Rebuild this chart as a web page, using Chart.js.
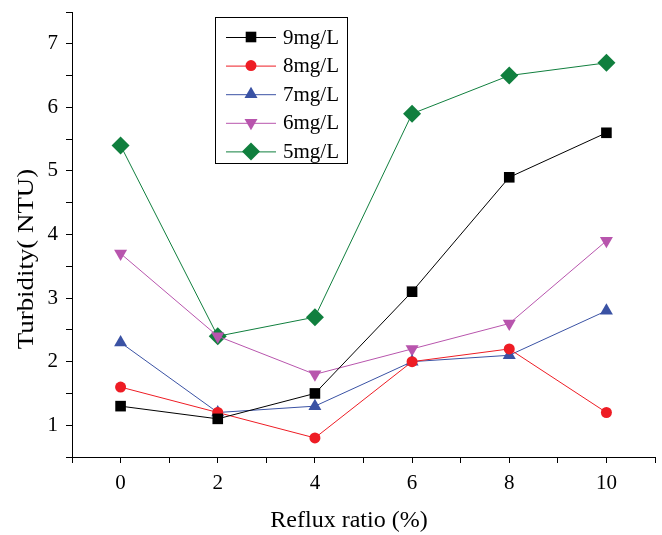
<!DOCTYPE html>
<html>
<head>
<meta charset="utf-8">
<script src="https://cdn.jsdelivr.net/npm/chart.js@4/dist/chart.umd.min.js"></script>
<style>
  html, body { margin: 0; padding: 0; background: #fff; }
</style>
</head>
<body>
<canvas id="turbChart" width="662" height="535"></canvas>
<script>
var refluxRatio = [0, 2, 4, 6, 8, 10];
var seriesNames = ['9mg/L', '8mg/L', '7mg/L', '6mg/L', '5mg/L'];
var dose9 = [1.3, 1.1, 1.5, 3.1, 4.9, 5.6];
var dose8 = [1.6, 1.2, 0.8, 2.0, 2.2, 1.2];
var dose7 = [2.3, 1.2, 1.3, 2.0, 2.1, 2.8];
var dose6 = [3.7, 2.4, 1.8, 2.2, 2.6, 3.9];
var dose5 = [5.4, 2.4, 2.7, 5.9, 6.5, 6.7];

var FONT = '"Liberation Serif", "Times New Roman", serif';

function pts(vals) {
    return vals.map(function (v, i) { return { x: refluxRatio[i], y: v }; });
}

function makeSet(label, vals, color, style, radius, rot) {
    return {
        label: label,
        data: pts(vals),
        borderColor: color,
        backgroundColor: color,
        borderWidth: 1,
        pointStyle: style,
        pointRadius: radius,
        pointRotation: rot || 0,
        pointBorderWidth: 0,
        fill: false
    };
}

// legend box inside the plot, line + marker like the original
var boxLegend = {
    id: 'boxLegend',
    afterDraw: function (chart) {
        var ctx = chart.ctx;
        var x0 = 215, y0 = 17, w = 132, h = 146;
        ctx.save();
        ctx.strokeStyle = '#000';
        ctx.lineWidth = 1;
        ctx.strokeRect(x0 + 0.5, y0 + 0.5, w, h);
        ctx.font = '21px ' + FONT;
        ctx.textBaseline = 'middle';
        chart.data.datasets.forEach(function (ds, i) {
            var y = 37 + i * 28.6;
            ctx.strokeStyle = ds.borderColor;
            ctx.beginPath();
            ctx.moveTo(226, y + 0.5);
            ctx.lineTo(276, y + 0.5);
            ctx.stroke();
            ctx.fillStyle = ds.backgroundColor;
            Chart.helpers.drawPoint(ctx, {
                pointStyle: ds.pointStyle,
                radius: ds.pointRadius,
                rotation: ds.pointRotation,
                borderWidth: 0
            }, 251, y);
            ctx.fillStyle = '#000';
            ctx.textAlign = 'left';
            ctx.fillText(ds.label, 283, y + 1);
        });
        ctx.restore();
    }
};

// axis titles
var axisTitles = {
    id: 'axisTitles',
    afterDraw: function (chart) {
        var ctx = chart.ctx;
        ctx.save();
        ctx.fillStyle = '#000';
        ctx.font = '24px ' + FONT;
        ctx.textAlign = 'center';
        ctx.textBaseline = 'middle';
        ctx.fillText('Reflux ratio (%)', 349, 521);
        ctx.translate(27, 259);
        ctx.rotate(-Math.PI / 2);
        ctx.scale(1.12, 1); // the y title is a bit stretched in the original
        ctx.fillText('Turbidity( NTU)', 0, 0);
        ctx.restore();
    }
};

var ctx = document.getElementById('turbChart').getContext('2d');

var myChart = new Chart(ctx, {
    type: 'line',
    data: {
        datasets: [
            makeSet(seriesNames[0], dose9, '#000000', 'rect', 7.5),
            makeSet(seriesNames[1], dose8, '#ee1c24', 'circle', 5.5),
            makeSet(seriesNames[2], dose7, '#3a52a4', 'triangle', 7.5),
            makeSet(seriesNames[3], dose6, '#b855ad', 'triangle', 7.5, 180),
            makeSet(seriesNames[4], dose5, '#107f3e', 'rectRot', 9)
        ]
    },
    options: {
        responsive: false,
        animation: false,
        layout: { autoPadding: false, padding: { top: 12, right: 7, left: 0, bottom: 0 } },
        plugins: {
            legend: { display: false },
            tooltip: { enabled: false }
        },
        scales: {
            x: {
                type: 'linear',
                min: -1,
                max: 11,
                afterFit: function (s) {
                    s.height = 78;
                    s.paddingLeft = 0;
                    s.paddingRight = 0;
                },
                ticks: {
                    stepSize: 1,
                    color: '#000',
                    font: { family: FONT, size: 21 },
                    padding: 8,
                    maxRotation: 0,
                    autoSkip: false,
                    callback: function (v) { return v % 2 === 0 && v >= 0 && v <= 10 ? String(v) : ''; }
                },
                grid: { drawOnChartArea: false, tickLength: 6, color: '#000', tickWidth: 1 },
                border: { display: true, color: '#000', width: 1 }
            },
            y: {
                min: 0.5,
                max: 7.5,
                afterFit: function (s) {
                    s.width = 72;
                    s.paddingTop = 0;
                    s.paddingBottom = 0;
                },
                ticks: {
                    stepSize: 0.5,
                    color: '#000',
                    font: { family: FONT, size: 21 },
                    padding: 8,
                    autoSkip: false,
                    callback: function (v) { return Number.isInteger(v) ? String(v) : ''; }
                },
                grid: { drawOnChartArea: false, tickLength: 6, color: '#000', tickWidth: 1 },
                border: { display: true, color: '#000', width: 1 }
            }
        }
    },
    plugins: [boxLegend, axisTitles]
});
</script>
</body>
</html>
